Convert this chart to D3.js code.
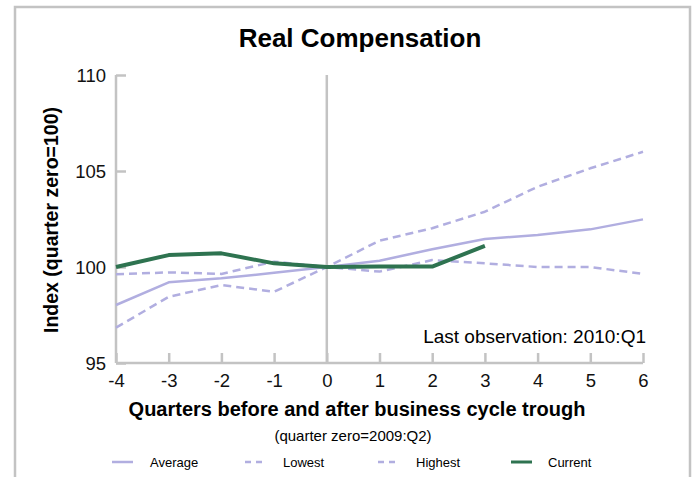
<!DOCTYPE html>
<html>
<head>
<meta charset="utf-8">
<script src="https://cdn.jsdelivr.net/npm/d3@7"></script>
<style>
body { margin: 0; background: #fff; }
svg { font-family: "Liberation Sans", Arial, sans-serif; }
</style>
</head>
<body>
<svg id="chart" width="692" height="477"></svg>
<script>
// quarters relative to trough
var quarters = [-4, -3, -2, -1, 0, 1, 2, 3, 4, 5, 6];
var average = [98.02, 99.2, 99.41, 99.7, 100, 100.33, 100.92, 101.46, 101.67, 101.96, 102.48];
var lowest = [99.62, 99.72, 99.64, 100.28, 100, 99.76, 100.36, 100.19, 100.0, 100.0, 99.64];
var highest = [96.84, 98.45, 99.06, 98.71, 100, 101.37, 102.02, 102.88, 104.18, 105.14, 106.0];
var current = [100.0, 100.62, 100.71, 100.19, 100, 100.02, 100.02, 101.1];
var yTicks = [95, 100, 105, 110];
var legendNames = ["Average", "Lowest", "Highest", "Current"];

var lav = "#b1aee0";
var green = "#2e7350";
var axisCol = "#c3c3c3";

var svg = d3.select("#chart");

// outer frame
svg.append("rect")
  .attr("x", 15).attr("y", 7)
  .attr("width", 675).attr("height", 480)
  .attr("fill", "none")
  .attr("stroke", axisCol)
  .attr("stroke-width", 2.5);

var x = d3.scaleLinear().domain([-4, 6]).range([116, 643]);
var y = d3.scaleLinear().domain([95, 110]).range([363, 75]);

svg.append("text")
  .attr("x", 360).attr("y", 47)
  .attr("text-anchor", "middle")
  .attr("font-size", 26).attr("font-weight", "bold")
  .text("Real Compensation");

// zero line
svg.append("line")
  .attr("x1", x(0)).attr("x2", x(0))
  .attr("y1", y(110)).attr("y2", y(95))
  .attr("stroke", axisCol).attr("stroke-width", 2.5);

// y axis
var yAxis = svg.append("g")
  .attr("transform", "translate(" + x(-4) + ",0)")
  .call(d3.axisRight(y).tickValues(yTicks).tickSize(10).tickFormat(d3.format("d")));
yAxis.select(".domain").attr("stroke", axisCol).attr("stroke-width", 2.5).attr("d", "M0," + y(110) + "V" + y(95));
yAxis.selectAll(".tick line").attr("stroke", axisCol).attr("stroke-width", 2.5);
yAxis.selectAll(".tick text")
  .attr("x", -10).attr("dy", "0.36em").attr("text-anchor", "end")
  .attr("font-size", 18.5).attr("fill", "#111")
  .attr("font-family", "Liberation Sans, Arial, sans-serif");

// x axis
var xAxis = svg.append("g")
  .attr("transform", "translate(0," + y(95) + ")")
  .call(d3.axisTop(x).tickValues(quarters).tickSize(10).tickFormat(d3.format("d")));
xAxis.select(".domain").attr("stroke", axisCol).attr("stroke-width", 2.5).attr("d", "M" + x(-4) + ",0H" + x(6));
xAxis.selectAll(".tick line").attr("stroke", axisCol).attr("stroke-width", 2.5);
xAxis.selectAll(".tick text")
  .attr("y", 24).attr("dy", 0)
  .attr("font-size", 18.5).attr("fill", "#111")
  .attr("font-family", "Liberation Sans, Arial, sans-serif")
  .text(function(d) { return d < 0 ? "-" + Math.abs(d) : d; });

// axis titles
svg.append("text")
  .attr("transform", "translate(58,220) rotate(-90)")
  .attr("text-anchor", "middle")
  .attr("font-size", 19.5).attr("font-weight", "bold")
  .text("Index (quarter zero=100)");

svg.append("text")
  .attr("x", 357).attr("y", 416)
  .attr("text-anchor", "middle")
  .attr("font-size", 20).attr("font-weight", "bold")
  .text("Quarters before and after business cycle trough");

svg.append("text")
  .attr("x", 353).attr("y", 441)
  .attr("text-anchor", "middle")
  .attr("font-size", 15)
  .text("(quarter zero=2009:Q2)");

svg.append("text")
  .attr("x", 646).attr("y", 343)
  .attr("text-anchor", "end")
  .attr("font-size", 19)
  .text("Last observation: 2010:Q1");

var line = d3.line()
  .x(function(d, i) { return x(quarters[i]); })
  .y(function(d) { return y(d); });

var series = [
  {name: legendNames[0], data: average, color: lav, width: 2.5, dash: null},
  {name: legendNames[1], data: lowest, color: lav, width: 2.5, dash: "8,5"},
  {name: legendNames[2], data: highest, color: lav, width: 2.5, dash: "8,5"},
  {name: legendNames[3], data: current, color: green, width: 4, dash: null}
];

series.forEach(function(s) {
  svg.append("path")
    .datum(s.data)
    .attr("d", line)
    .attr("fill", "none")
    .attr("stroke", s.color)
    .attr("stroke-width", s.width)
    .attr("stroke-dasharray", s.dash)
    .attr("stroke-linejoin", "round");
});

// legend
var legendX = [112, 245, 378, 511];
var leg = svg.selectAll(".leg")
  .data(series)
  .enter().append("g")
  .attr("class", "leg")
  .attr("transform", function(d, i) { return "translate(" + legendX[i] + ",462)"; });

leg.append("line")
  .attr("x1", 0).attr("x2", function(d) { return d.dash ? 17 : 21; })
  .attr("y1", 0).attr("y2", 0)
  .attr("stroke", function(d) { return d.color; })
  .attr("stroke-width", function(d) { return d.name == "Current" ? 3 : 2.5; })
  .attr("stroke-dasharray", function(d) { return d.dash ? "6,5" : null; });

leg.append("text")
  .attr("x", function(d, i) { return i == 3 ? 37 : 38; })
  .attr("y", 5)
  .attr("font-size", 13)
  .text(function(d) { return d.name; });
</script>
</body>
</html>
